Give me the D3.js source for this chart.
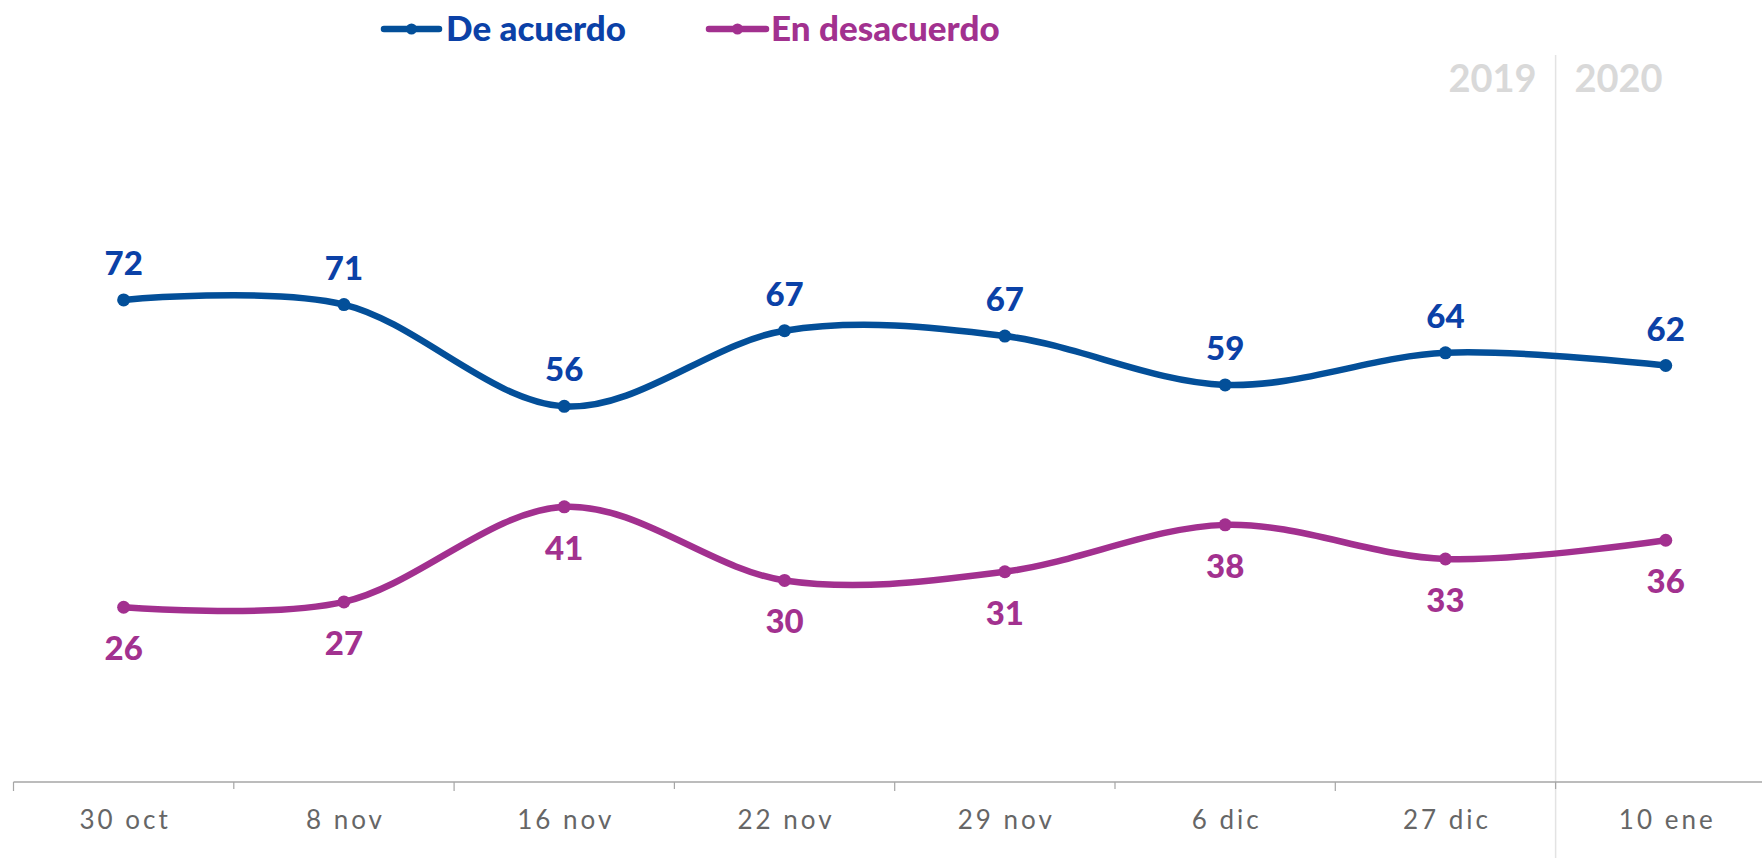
<!DOCTYPE html>
<html>
<head>
<meta charset="utf-8">
<script src="https://cdn.jsdelivr.net/npm/d3@7"></script>
<style>
  body { margin: 0; background: #fff; }
  svg { display: block; }
</style>
</head>
<body>
<div id="chart"></div>
<script>
const width = 1762;
const height = 858;

const fechas = ["30 oct", "8 nov", "16 nov", "22 nov", "29 nov", "6 dic", "27 dic", "10 ene"];
const deAcuerdo = [72, 71.3, 56.1, 67.4, 66.6, 59.3, 64.1, 62.2];
const enDesacuerdo = [26.1, 26.9, 41.1, 30.1, 31.4, 38.4, 33.3, 36.1];
const years = ["2019", "2020"];

const series = [
  { name: "De acuerdo", values: deAcuerdo, line: "#034f99", text: "#0b41a7", labelAbove: true },
  { name: "En desacuerdo", values: enDesacuerdo, line: "#a2308f", text: "#a2318f", labelAbove: false }
];

const svg = d3.select("#chart")
  .append("svg")
  .attr("width", width)
  .attr("height", height);

const x = d3.scaleBand()
  .domain(fechas)
  .range([13.5, 13.5 + 8 * 220.3]);

const y = d3.scaleLinear()
  .domain([0, 100])
  .range([782, 112.4]);

const cx = d => x(d) + x.bandwidth() / 2;

// year divider
const divX = x(fechas[7]);
svg.append("line")
  .attr("x1", divX).attr("x2", divX)
  .attr("y1", 55).attr("y2", height)
  .attr("stroke", "#e3e3e3")
  .attr("stroke-width", 1.5);

svg.selectAll(".year")
  .data(years)
  .join("text")
  .attr("class", "year")
  .attr("x", (d, i) => i === 0 ? divX - 63 : divX + 63)
  .attr("y", 92)
  .attr("text-anchor", "middle")
  .style("font-family", "Lato, sans-serif")
  .style("font-weight", "bold")
  .style("font-size", "38px")
  .style("fill", "#d9d9d9")
  .text(d => d);

// x axis
svg.append("line")
  .attr("x1", x.range()[0]).attr("x2", width)
  .attr("y1", y(0)).attr("y2", y(0))
  .attr("stroke", "#a6a6a6")
  .attr("stroke-width", 1.5);

svg.selectAll(".tick-mark")
  .data(fechas)
  .join("line")
  .attr("class", "tick-mark")
  .attr("x1", d => x(d)).attr("x2", d => x(d))
  .attr("y1", y(0)).attr("y2", (d, i) => y(0) + (i % 2 ? 7 : 9))
  .attr("stroke", "#a6a6a6")
  .attr("stroke-width", 1.2);

svg.selectAll(".tick-label")
  .data(fechas)
  .join("text")
  .attr("class", "tick-label")
  .attr("x", d => cx(d) + 1.5)
  .attr("y", 829)
  .attr("text-anchor", "middle")
  .style("font-family", "Lato, sans-serif")
  .style("font-size", "26px")
  .style("letter-spacing", "3px")
  .style("fill", "#666666")
  .text(d => d);

// lines
const line = d3.line()
  .x((d, i) => cx(fechas[i]))
  .y(d => y(d))
  .curve(d3.curveCardinal.tension(0));

series.forEach(s => {
  const g = svg.append("g");

  g.append("path")
    .datum(s.values)
    .attr("d", line)
    .attr("fill", "none")
    .attr("stroke", s.line)
    .attr("stroke-width", 6.5)
    .attr("stroke-linecap", "round");

  g.selectAll("circle")
    .data(s.values)
    .join("circle")
    .attr("cx", (d, i) => cx(fechas[i]))
    .attr("cy", d => y(d))
    .attr("r", 6.5)
    .attr("fill", s.line);

  g.selectAll("text")
    .data(s.values)
    .join("text")
    .attr("x", (d, i) => cx(fechas[i]))
    .attr("y", d => s.labelAbove ? y(d) - 25 : y(d) + 53)
    .attr("text-anchor", "middle")
    .style("font-family", "Lato, sans-serif")
    .style("font-weight", "900")
    .style("font-size", "33px")
    .style("fill", s.text)
    .text(d => Math.round(d));
});

// legend
const legendPos = [{ x1: 384, x2: 439, tx: 446 }, { x1: 709, x2: 766, tx: 771 }];
series.forEach((s, i) => {
  const p = legendPos[i];
  const lg = svg.append("g");
  lg.append("line")
    .attr("x1", p.x1).attr("x2", p.x2)
    .attr("y1", 29).attr("y2", 29)
    .attr("stroke", s.line)
    .attr("stroke-width", 6.5)
    .attr("stroke-linecap", "round");
  lg.append("circle")
    .attr("cx", (p.x1 + p.x2) / 2)
    .attr("cy", 29)
    .attr("r", 5.5)
    .attr("fill", s.line);
  lg.append("text")
    .attr("x", p.tx)
    .attr("y", 41)
    .style("font-family", "Lato, sans-serif")
    .style("font-weight", "900")
    .style("font-size", "35px")
    .style("fill", s.text)
    .text(s.name);
});
</script>
</body>
</html>
